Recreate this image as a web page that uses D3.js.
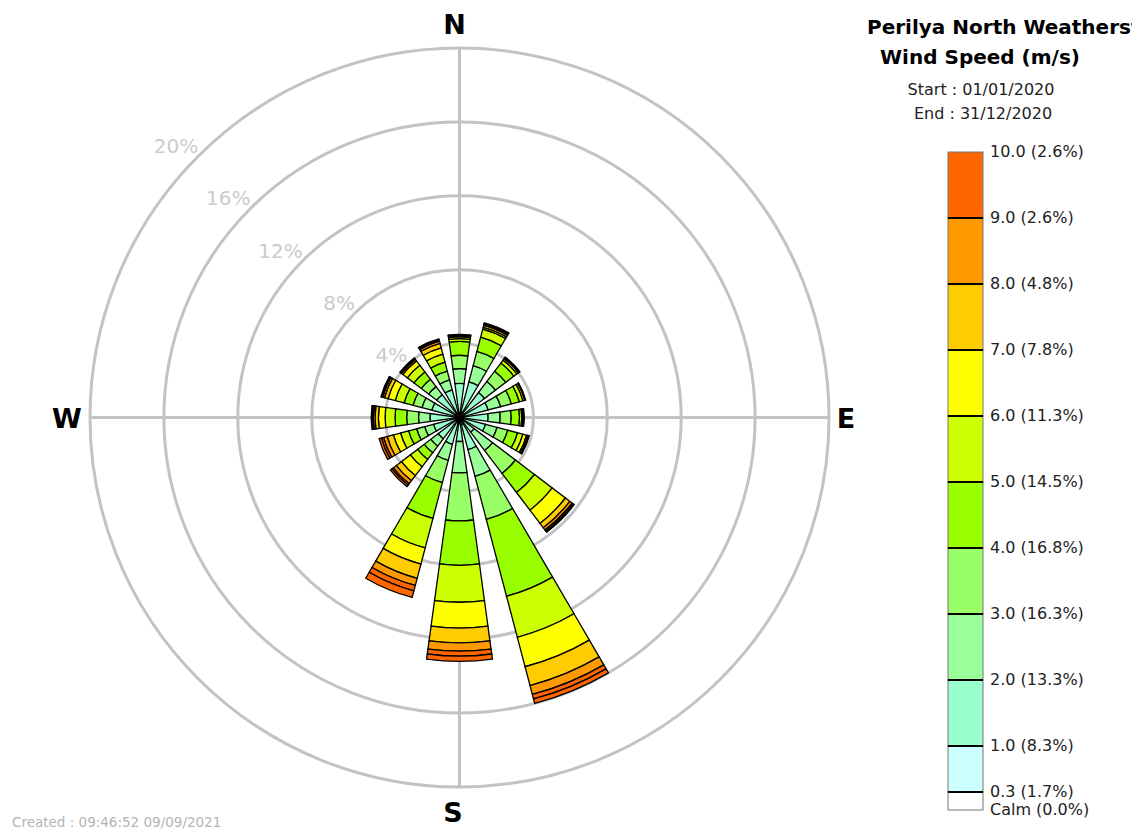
<!DOCTYPE html>
<html>
<head>
<meta charset="utf-8">
<script src="https://cdn.jsdelivr.net/npm/d3@7"></script>
<style>
  body { margin: 0; background: #fff; }
  svg { display: block; font-family: "DejaVu Sans", Verdana, sans-serif; }
</style>
</head>
<body>
<div id="chart"></div>
<script>
// wind directions, clockwise from north
var directions = ["N", "NNE", "NE", "ENE", "E", "ESE", "SE", "SSE",
                  "S", "SSW", "SW", "WSW", "W", "WNW", "NW", "NNW"];

// speed classes (m/s) : 0.3-1, 1-2, 2-3, ... 8-9, 9-10, >10
var binColors = ["#ccffff", "#99ffcc", "#99ff99", "#99ff66", "#99ff00", "#ccff00",
                 "#ffff00", "#ffcc00", "#ff9900", "#ff6600", "#ff6600"];

// frequency (%) per direction, one value per speed class
var freq = [
  [0.25, 1.60, 0.80, 0.72, 0.75, 0.15, 0.10, 0.06, 0.03, 0.02, 0.02], // N
  [0.30, 1.70, 0.90, 0.80, 0.80, 0.45, 0.10, 0.10, 0.07, 0.04, 0.04], // NNE
  [0.25, 1.45, 0.75, 0.70, 0.55, 0.20, 0.10, 0.05, 0.02, 0.02, 0.01], // NE
  [0.25, 1.35, 0.70, 0.60, 0.45, 0.20, 0.10, 0.03, 0.01, 0.01, 0.00], // ENE
  [0.25, 1.30, 0.65, 0.60, 0.45, 0.12, 0.06, 0.03, 0.02, 0.01, 0.01], // E
  [0.25, 1.20, 0.65, 0.60, 0.55, 0.30, 0.20, 0.08, 0.03, 0.02, 0.02], // ESE
  [0.20, 0.80, 1.25, 1.55, 1.30, 1.20, 0.90, 0.30, 0.15, 0.08, 0.07], // SE
  [0.40, 1.40, 1.50, 2.40, 4.30, 2.30, 1.65, 1.05, 0.50, 0.25, 0.25], // SSE
  [0.35, 0.95, 1.70, 2.60, 2.40, 2.00, 1.40, 0.80, 0.45, 0.27, 0.28], // S
  [0.30, 1.20, 0.90, 1.25, 2.00, 1.65, 0.90, 0.80, 0.40, 0.30, 0.37], // SSW
  [0.25, 1.20, 0.50, 0.45, 0.45, 0.50, 0.60, 0.35, 0.20, 0.10, 0.10], // SW
  [0.25, 1.20, 0.50, 0.45, 0.45, 0.45, 0.40, 0.35, 0.20, 0.12, 0.13], // WSW
  [0.30, 1.30, 0.62, 0.64, 0.63, 0.54, 0.36, 0.18, 0.09, 0.06, 0.06], // W
  [0.25, 1.30, 0.55, 0.50, 0.50, 0.50, 0.40, 0.20, 0.10, 0.05, 0.05], // WNW
  [0.25, 1.30, 0.55, 0.50, 0.50, 0.45, 0.30, 0.10, 0.05, 0.03, 0.02], // NW
  [0.25, 1.30, 0.55, 0.50, 0.50, 0.45, 0.35, 0.25, 0.12, 0.07, 0.06]  // NNW
];

var ringTicks = [4, 8, 12, 16, 20];

// legend (bottom to top)
var legendColors = ["#ffffff", "#ccffff", "#99ffcc", "#99ff99", "#99ff66", "#99ff00",
                    "#ccff00", "#ffff00", "#ffcc00", "#ff9900", "#ff6600"];
var legendLabels = ["Calm (0.0%)", "0.3 (1.7%)", "1.0 (8.3%)", "2.0 (13.3%)", "3.0 (16.3%)",
                    "4.0 (16.8%)", "5.0 (14.5%)", "6.0 (11.3%)", "7.0 (7.8%)", "8.0 (4.8%)",
                    "9.0 (2.6%)", "10.0 (2.6%)"];

var width = 1132, height = 829;
var cx = 459.5, cy = 417.5, R = 369.5;

var svg = d3.select("#chart").append("svg")
    .attr("width", width)
    .attr("height", height);

var r = d3.scaleLinear().domain([0, 20]).range([0, R]);

var g = svg.append("g").attr("transform", "translate(" + cx + "," + cy + ")");

// grid rings
g.selectAll("circle.ring")
    .data(ringTicks)
    .enter().append("circle")
    .attr("class", "ring")
    .attr("r", function(d) { return r(d); })
    .attr("fill", "none")
    .attr("stroke", "#c3c3c3")
    .attr("stroke-width", 3);

// cross
g.append("line").attr("x1", 0).attr("x2", 0).attr("y1", -R).attr("y2", R)
    .attr("stroke", "#c3c3c3").attr("stroke-width", 3);
g.append("line").attr("x1", -R).attr("x2", R).attr("y1", 0).attr("y2", 0)
    .attr("stroke", "#c3c3c3").attr("stroke-width", 3);

// ring labels along the NW diagonal
g.selectAll("text.ringlab")
    .data(ringTicks)
    .enter().append("text")
    .attr("class", "ringlab")
    .attr("x", function(d) { return -r(d) * Math.SQRT1_2; })
    .attr("y", function(d) { return -r(d) * Math.SQRT1_2 - 3; })
    .attr("text-anchor", "end")
    .attr("font-size", 20)
    .attr("fill", "#cbcbcb")
    .text(function(d) { return d + "%"; });

// petals
var step = 2 * Math.PI / directions.length;
var half = step * 0.345;

var arc = d3.arc();

var petals = g.selectAll("g.petal")
    .data(freq)
    .enter().append("g")
    .attr("class", "petal");

petals.each(function(row, i) {
    var cum = d3.cumsum(row);
    var a = i * step;
    var segs = row.map(function(v, k) {
        return {
            inner: k === 0 ? 0 : cum[k - 1],
            outer: cum[k],
            color: binColors[k]
        };
    }).filter(function(s) { return s.outer > s.inner; });

    d3.select(this).selectAll("path")
        .data(segs)
        .enter().append("path")
        .attr("d", function(s) {
            return arc({
                innerRadius: r(s.inner),
                outerRadius: r(s.outer),
                startAngle: a - half,
                endAngle: a + half
            });
        })
        .attr("fill", function(s) { return s.color; })
        .attr("stroke", "#000")
        .attr("stroke-width", 1.3)
        .attr("stroke-linejoin", "miter");
});

// compass letters
var compass = [
    {t: "N", x: 454.5, y: 34},
    {t: "E", x: 846, y: 428},
    {t: "S", x: 453, y: 822},
    {t: "W", x: 67, y: 428}
];
svg.selectAll("text.compass")
    .data(compass)
    .enter().append("text")
    .attr("class", "compass")
    .attr("x", function(d) { return d.x; })
    .attr("y", function(d) { return d.y; })
    .attr("text-anchor", "middle")
    .attr("font-size", 27)
    .attr("font-weight", "bold")
    .attr("fill", "#000")
    .text(function(d) { return d.t; });

// title block (first line runs off the right edge, as in the original)
svg.append("text")
    .attr("x", 867).attr("y", 34)
    .attr("font-size", 20).attr("font-weight", "bold")
    .text("Perilya North Weatherstation");
svg.append("text")
    .attr("x", 980).attr("y", 64)
    .attr("text-anchor", "middle")
    .attr("font-size", 20).attr("font-weight", "bold")
    .text("Wind Speed (m/s)");
svg.append("text")
    .attr("x", 981).attr("y", 95)
    .attr("text-anchor", "middle")
    .attr("font-size", 16).attr("fill", "#222")
    .text("Start : 01/01/2020");
svg.append("text")
    .attr("x", 983).attr("y", 118.5)
    .attr("text-anchor", "middle")
    .attr("font-size", 16).attr("fill", "#222")
    .text("End : 31/12/2020");

// legend bar
var legX = 948, legW = 35, legBottom = 810;
var calmH = 18, firstH = 46, stepH = 66;
var edges = legendLabels.map(function(d, k) {
    if (k === 0) return legBottom;
    if (k === 1) return legBottom - calmH;
    return legBottom - calmH - firstH - (k - 2) * stepH;
});

var leg = svg.append("g");
leg.selectAll("rect")
    .data(legendColors)
    .enter().append("rect")
    .attr("x", legX)
    .attr("y", function(d, k) { return edges[k + 1]; })
    .attr("width", legW)
    .attr("height", function(d, k) { return edges[k] - edges[k + 1]; })
    .attr("fill", function(d) { return d; })
    .attr("stroke", "#777")
    .attr("stroke-width", 1);

leg.selectAll("line")
    .data(edges.slice(1, edges.length - 1))
    .enter().append("line")
    .attr("x1", legX).attr("x2", legX + legW)
    .attr("y1", function(d) { return d; })
    .attr("y2", function(d) { return d; })
    .attr("stroke", "#000")
    .attr("stroke-width", 2);

leg.selectAll("text")
    .data(legendLabels)
    .enter().append("text")
    .attr("x", legX + legW + 7)
    .attr("y", function(d, k) { return edges[k] + 4.5; })
    .attr("font-size", 16)
    .attr("fill", "#222")
    .text(function(d) { return d; });

// footer
svg.append("text")
    .attr("x", 12).attr("y", 827)
    .attr("font-size", 13.5)
    .attr("fill", "#b4b4b4")
    .text("Created : 09:46:52 09/09/2021");
</script>
</body>
</html>
